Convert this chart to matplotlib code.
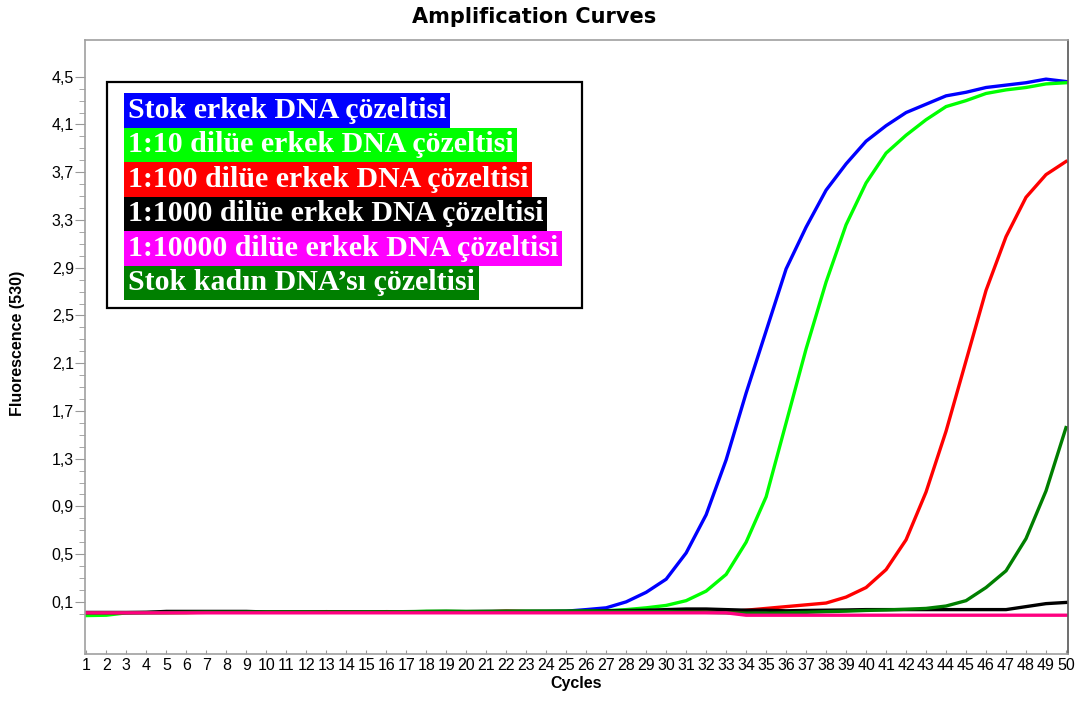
import matplotlib
matplotlib.use("Agg")
import matplotlib.pyplot as plt
from matplotlib.patches import Rectangle
import numpy as np

# ---------- DATA ----------
cycles = list(range(1, 51))

stok_erkek = [0.010, 0.010, 0.010, 0.010, 0.012, 0.012, 0.012, 0.012, 0.012, 0.012,
              0.012, 0.012, 0.012, 0.013, 0.013, 0.013, 0.014, 0.014, 0.015, 0.015,
              0.016, 0.017, 0.018, 0.019, 0.022, 0.035, 0.050, 0.100, 0.180, 0.290,
              0.510, 0.830, 1.290, 1.850, 2.370, 2.890, 3.240, 3.550, 3.770, 3.960,
              4.090, 4.200, 4.270, 4.340, 4.370, 4.410, 4.430, 4.450, 4.480, 4.460]

dil_10 = [-0.015, -0.012, 0.008, 0.010, 0.010, 0.010, 0.014, 0.014, 0.013, 0.015,
          0.015, 0.015, 0.014, 0.012, 0.014, 0.015, 0.016, 0.020, 0.020, 0.018,
          0.018, 0.018, 0.020, 0.020, 0.021, 0.022, 0.026, 0.035, 0.050, 0.070,
          0.110, 0.190, 0.330, 0.600, 0.980, 1.600, 2.220, 2.780, 3.260, 3.610,
          3.860, 4.010, 4.140, 4.250, 4.300, 4.360, 4.390, 4.410, 4.440, 4.450]

dil_100 = [0.010, 0.010, 0.010, 0.010, 0.010, 0.010, 0.012, 0.012, 0.012, 0.012,
           0.012, 0.012, 0.018, 0.014, 0.012, 0.018, 0.016, 0.016, 0.016, 0.016,
           0.016, 0.022, 0.018, 0.018, 0.018, 0.018, 0.018, 0.018, 0.018, 0.018,
           0.018, 0.015, 0.015, 0.030, 0.045, 0.060, 0.075, 0.090, 0.140, 0.220,
           0.370, 0.620, 1.020, 1.530, 2.120, 2.710, 3.160, 3.490, 3.680, 3.790]

dil_1000 = [0.010, 0.010, 0.010, 0.012, 0.020, 0.020, 0.020, 0.020, 0.020, 0.015,
            0.015, 0.015, 0.015, 0.015, 0.015, 0.015, 0.015, 0.018, 0.018, 0.018,
            0.020, 0.020, 0.020, 0.020, 0.020, 0.022, 0.025, 0.028, 0.030, 0.035,
            0.040, 0.040, 0.035, 0.030, 0.030, 0.025, 0.028, 0.030, 0.032, 0.035,
            0.035, 0.035, 0.035, 0.035, 0.035, 0.035, 0.035, 0.060, 0.085, 0.095]

dil_10000 = [0.008] * 33 + [-0.012] * 17

stok_kadin = [0.010, 0.010, 0.010, 0.010, 0.010, 0.012, 0.014, 0.014, 0.015, 0.015,
              0.015, 0.015, 0.015, 0.015, 0.016, 0.016, 0.018, 0.020, 0.022, 0.020,
              0.020, 0.022, 0.022, 0.022, 0.022, 0.022, 0.020, 0.020, 0.018, 0.018,
              0.015, 0.012, 0.008, 0.005, 0.005, 0.008, 0.012, 0.018, 0.022, 0.028,
              0.032, 0.038, 0.045, 0.065, 0.110, 0.220, 0.360, 0.630, 1.030, 1.560]

series = [stok_erkek, dil_10, dil_100, dil_1000, stok_kadin, dil_10000]
line_colors = ["#0000ff", "#00ff00", "#ff0000", "#000000", "#007f00", "#ff0080"]

legend_labels = ["Stok erkek DNA çözeltisi",
                 "1:10 dilüe erkek DNA çözeltisi",
                 "1:100 dilüe erkek DNA çözeltisi",
                 "1:1000 dilüe erkek DNA çözeltisi",
                 "1:10000 dilüe erkek DNA çözeltisi",
                 "Stok kadın DNA’sı çözeltisi"]
legend_colors = ["#0000ff", "#00ff00", "#ff0000", "#000000", "#ff00ff", "#007f00"]

y_ticks = [0.1, 0.5, 0.9, 1.3, 1.7, 2.1, 2.5, 2.9, 3.3, 3.7, 4.1, 4.5]

# ---------- FIGURE ----------
W, H = 1076, 701
fig = plt.figure(figsize=(W / 100, H / 100), dpi=100)
ax = fig.add_axes([85 / W, 1 - 654 / H, (1068 - 85) / W, (654 - 40) / H])

for vals, c in zip(series, line_colors):
    ax.plot(cycles, vals, color=c, lw=2.4, solid_joinstyle="miter")

ax.set_xlim(0.93, 50.1)
ax.set_ylim(-0.337, 4.808)

ax.set_xticks(cycles)
ax.set_xticklabels([str(c) for c in cycles], fontsize=11.5, family="Liberation Sans")
ax.set_yticks(y_ticks)
ax.set_yticklabels([f"{v:.1f}".replace(".", ",") for v in y_ticks],
                   fontsize=11.5, family="Liberation Sans")
ax.set_yticks(np.arange(0.0, 4.45, 0.1), minor=True)

ax.tick_params(axis="x", direction="in", length=3, color="#999999", pad=3)
ax.tick_params(axis="y", which="major", direction="out", length=7, color="#999999", pad=1)
ax.tick_params(axis="y", which="minor", direction="out", length=4, color="#999999")

for side in ["left", "bottom", "top"]:
    ax.spines[side].set_color("#a0a0a0")
    ax.spines[side].set_linewidth(1.2)
ax.spines["right"].set_color("#555555")
ax.spines["right"].set_linewidth(1.2)

ax.set_xlabel("Cycles", fontsize=11.5, fontweight="bold", family="Liberation Sans", labelpad=2)
fig.text(18 / W, 1 - 343 / H, "Fluorescence (530)", rotation=90, fontsize=11.5,
         fontweight="bold", family="Liberation Sans", ha="center", va="center")
fig.text(534 / W, 1 - 17 / H, "Amplification Curves", fontsize=15, fontweight="bold",
         family="DejaVu Sans", ha="center", va="center")

# ---------- LEGEND BOX ----------
ax.add_patch(Rectangle((107 / W, 1 - 308 / H), (582 - 107) / W, (308 - 82) / H,
                       transform=fig.transFigure, facecolor="white", edgecolor="black",
                       lw=1.6, clip_on=False, zorder=5))
for i, (lab, c) in enumerate(zip(legend_labels, legend_colors)):
    yc = 110.5 + i * 34.5
    fig.text(128 / W, 1 - yc / H, lab, color="white", fontsize=21.5, fontweight="bold",
             family="Liberation Serif", ha="left", va="center", zorder=6,
             bbox=dict(boxstyle="square,pad=0.12", facecolor=c, edgecolor="none"))

fig.savefig("out.png", dpi=100)
